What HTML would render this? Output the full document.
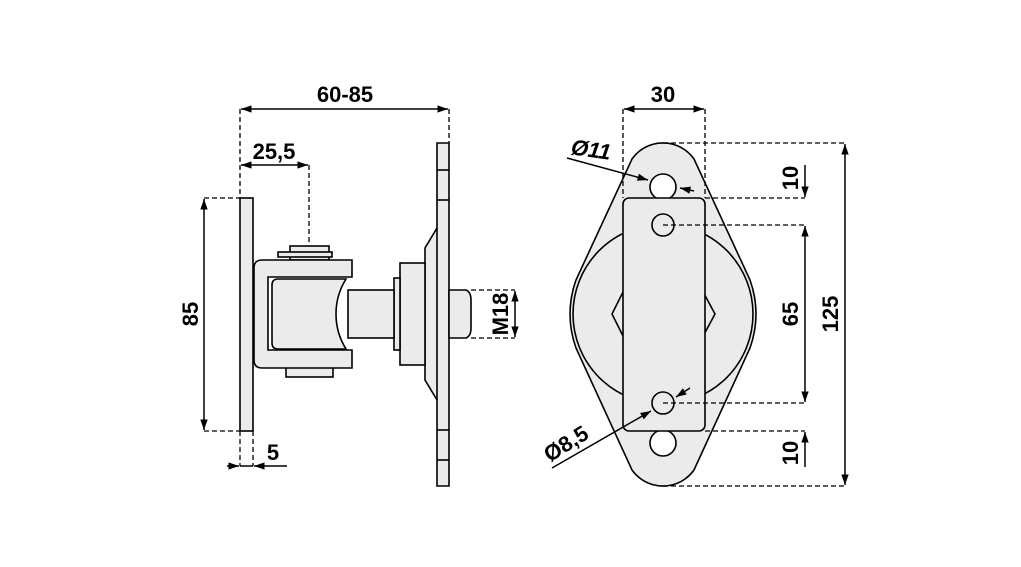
<!DOCTYPE html>
<html><head><meta charset="utf-8"><style>
html,body{margin:0;padding:0;background:#fff}
svg{display:block}
text{font-family:"Liberation Sans",sans-serif;font-size:22px;fill:#000}
</style></head><body>
<svg width="1021" height="567" viewBox="0 0 1021 567" xmlns="http://www.w3.org/2000/svg">
<defs>
<marker id="a" viewBox="0 0 10 10" refX="10" refY="5" markerWidth="7" markerHeight="7" orient="auto-start-reverse"><path d="M0,1.5 L10,5 L0,8.5 Z" fill="#000"/></marker>
</defs>
<g stroke="#000" stroke-width="1.6" fill="#ebebeb">
<!-- left view -->
<rect x="240" y="198" width="13" height="233"/>
<path d="M437,143 H449 V486 H437 V400 L425,380 V248 L437,228 Z"/>
<line x1="437" y1="228" x2="437" y2="400"/>
<line x1="437" y1="170" x2="449" y2="170"/><line x1="437" y1="200" x2="449" y2="200"/>
<line x1="437" y1="430" x2="449" y2="430"/><line x1="437" y1="460" x2="449" y2="460"/>
<path d="M449,290 H466 Q471,292 471,300 V328 Q471,336 466,338 H449 Z"/>
<rect x="400" y="263" width="25" height="102"/>
<rect x="394" y="278" width="6" height="72"/>
<rect x="348" y="290" width="46" height="48"/>
<rect x="290" y="246" width="39" height="14"/>
<rect x="278" y="252" width="54" height="5"/>
<rect x="286" y="367" width="47" height="10"/>
<path d="M262,260 H352 V277 H268 V350 H352 V368 H262 Q254,368 254,360 V268 Q254,260 262,260 Z"/>
<path d="M278,279 H346 Q336,295 336,314 Q336,333 346,349 H278 Q272,349 272,343 V285 Q272,279 278,279 Z"/>
<!-- right view -->
<path d="M632,159 A38,38 0 0 1 694,159 L750,280 Q762,314 750,348 L694,470 A38,38 0 0 1 632,470 L576,348 Q564,314 576,280 Z"/>
<circle cx="663" cy="314" r="90"/>
<path d="M625,288 L612,314 L625,340 M701,288 L715,314 L701,340" fill="none"/>
<circle cx="663" cy="187" r="13" fill="#fff"/>
<circle cx="663" cy="443" r="13" fill="#fff"/>
<rect x="623" y="198" width="82" height="233" rx="6"/>
<circle cx="663" cy="225" r="11"/>
<circle cx="663" cy="403" r="11"/>
</g>
<g stroke="#000" stroke-width="1.3" fill="none" stroke-dasharray="5,3">
<path d="M240,109 V198 M449,109 V143 M309,165 V243 M204,198 H240 M204,431 H240 M240,431 V466 M253,431 V466 M471,290 H515 M471,338 H515"/>
<path d="M623,109 V198 M705,109 V198 M663,143 H845 M663,486 H845 M705,198 H805 M663,225 H805 M663,403 H805 M705,431 H805"/>
</g>
<g stroke="#000" stroke-width="1.5" fill="none">
<line x1="241" y1="109" x2="448" y2="109" marker-start="url(#a)" marker-end="url(#a)"/>
<line x1="241" y1="165" x2="308" y2="165" marker-start="url(#a)" marker-end="url(#a)"/>
<line x1="204" y1="199" x2="204" y2="430" marker-start="url(#a)" marker-end="url(#a)"/>
<line x1="227" y1="466" x2="239" y2="466" marker-end="url(#a)"/>
<line x1="240" y1="466" x2="253" y2="466"/>
<line x1="287" y1="466" x2="254" y2="466" marker-end="url(#a)"/>
<line x1="515" y1="291" x2="515" y2="337" marker-start="url(#a)" marker-end="url(#a)"/>
<line x1="624" y1="109" x2="704" y2="109" marker-start="url(#a)" marker-end="url(#a)"/>
<line x1="845" y1="144" x2="845" y2="485" marker-start="url(#a)" marker-end="url(#a)"/>
<line x1="805" y1="226" x2="805" y2="402" marker-start="url(#a)" marker-end="url(#a)"/>
<line x1="805" y1="165" x2="805" y2="197" marker-end="url(#a)"/>
<line x1="805" y1="467" x2="805" y2="432" marker-end="url(#a)"/>
<line x1="567" y1="158" x2="648" y2="180" marker-end="url(#a)"/>
<line x1="694" y1="191" x2="680" y2="188" marker-end="url(#a)"/>
<line x1="552" y1="468" x2="651" y2="411" marker-end="url(#a)"/>
<line x1="690" y1="388" x2="676" y2="397" marker-end="url(#a)"/>
</g>
<g font-weight="bold">
<text x="345" y="102" text-anchor="middle">60-85</text>
<text x="274" y="159" text-anchor="middle">25,5</text>
<text x="273" y="460" text-anchor="middle">5</text>
<text x="663" y="102" text-anchor="middle">30</text>
<text transform="translate(198,314) rotate(-90)" text-anchor="middle">85</text>
<text transform="translate(508,314) rotate(-90)" text-anchor="middle">M18</text>
<text transform="translate(838,314) rotate(-90)" text-anchor="middle">125</text>
<text transform="translate(798,314) rotate(-90)" text-anchor="middle">65</text>
<text transform="translate(798,178) rotate(-90)" text-anchor="middle">10</text>
<text transform="translate(798,453) rotate(-90)" text-anchor="middle">10</text>
<text transform="translate(590,157) rotate(8)" text-anchor="middle" font-style="italic">Ø11</text>
<text transform="translate(570,450) rotate(-32)" text-anchor="middle">Ø8,5</text>
</g>
</svg>
</body></html>
